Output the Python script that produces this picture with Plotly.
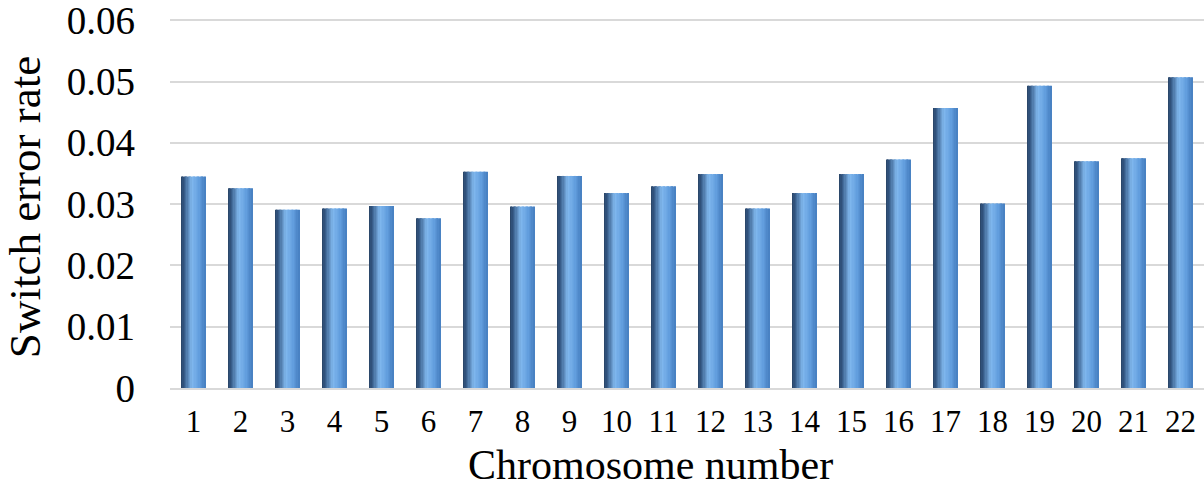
import plotly.graph_objects as go

# datos
cromosomas = [str(i) for i in range(1, 23)]
switch_error = [0.0345, 0.0326, 0.0291, 0.0293, 0.0297, 0.0277, 0.0353, 0.0296,
                0.0346, 0.0318, 0.0329, 0.0349, 0.0293, 0.0318, 0.0349, 0.0373,
                0.0457, 0.0301, 0.0493, 0.0370, 0.0375, 0.0507]
ticks_y = [0, 0.01, 0.02, 0.03, 0.04, 0.05, 0.06]
ticks_y_text = ["0", "0.01", "0.02", "0.03", "0.04", "0.05", "0.06"]

# degradado horizontal de las barras (izq oscuro -> centro claro -> der medio)
paradas = [(0.0, (40, 66, 98)), (0.12, (52, 88, 132)), (0.45, (128, 184, 238)),
           (0.75, (98, 158, 222)), (1.0, (70, 126, 192))]


def color_en(t):
    for (t0, c0), (t1, c1) in zip(paradas[:-1], paradas[1:]):
        if t0 <= t <= t1:
            f = (t - t0) / (t1 - t0)
            c = [round(a + (b - a) * f) for a, b in zip(c0, c1)]
            return "rgb(%d,%d,%d)" % tuple(c)
    return "rgb(%d,%d,%d)" % paradas[-1][1]


ancho = 0.51
n_franjas = 18
y_max = 0.062
fig = go.Figure()
x_num = list(range(len(cromosomas)))
for k in range(n_franjas):
    w = ancho / n_franjas
    fig.add_trace(go.Bar(
        x=x_num, y=switch_error,
        width=w * 1.05, offset=-ancho / 2 + k * w,
        marker=dict(color=color_en((k + 0.5) / n_franjas), line=dict(width=0)),
        showlegend=False, hoverinfo="skip" if k else None,
    ))

# 0 en y=388 px y 0.06 en y=20 px
t_margin = 388 - y_max * (368 / 0.06)
fig.update_layout(
    barmode="overlay",
    width=1204, height=489,
    margin=dict(l=170, r=0, t=t_margin, b=101, autoexpand=False),
    plot_bgcolor="white", paper_bgcolor="white",
    font=dict(family="Liberation Serif, Times New Roman, serif", color="black"),
)
fig.update_xaxes(
    tickmode="array", tickvals=x_num, ticktext=cromosomas,
    range=[-0.5, len(cromosomas) - 0.5],
    tickfont=dict(size=31), ticks="", ticklabelstandoff=5,
    showgrid=False, showline=True, linecolor="#d9d9d9", linewidth=2,
)
fig.update_yaxes(
    range=[0, y_max], tickmode="array", tickvals=ticks_y, ticktext=ticks_y_text,
    tickfont=dict(size=39), ticks="", ticklabelstandoff=34,
    ticklabeloverflow="allow",
    showgrid=True, gridcolor="#d9d9d9", gridwidth=2,
    zeroline=False, showline=False,
)
# titulos de los ejes
alto = 388 - t_margin
fig.add_annotation(text="Chromosome number", xref="paper", yref="paper",
                   x=(650 - 170) / 1034, y=(388 - 465) / alto,
                   xanchor="center", yanchor="middle",
                   showarrow=False, font=dict(size=42))
fig.add_annotation(text="Switch error rate", xref="paper", yref="paper",
                   x=(25 - 170) / 1034, y=(388 - 207) / alto, textangle=-90,
                   xanchor="center", yanchor="middle",
                   showarrow=False, font=dict(size=45))

# quitar el margen del body para que la figura quede en (0,0)
fig.write_html("out.html", config={"displayModeBar": False},
               post_script="document.body.style.margin='0';")
